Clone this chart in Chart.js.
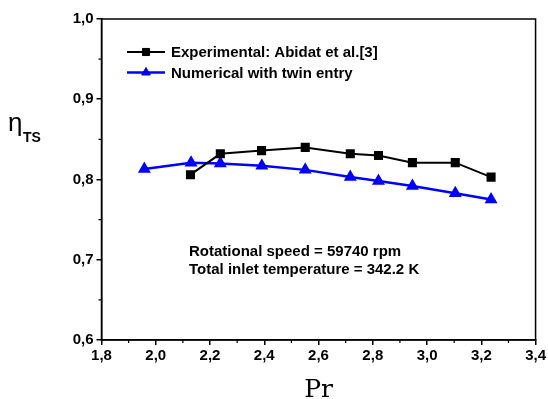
<!DOCTYPE html>
<html>
<head>
<meta charset="utf-8">
<script src="https://cdn.jsdelivr.net/npm/chart.js@4/dist/chart.umd.min.js"></script>
<style>
  html, body { margin: 0; padding: 0; background: #fff; }
  #wrap { width: 548px; height: 399px; }
</style>
</head>
<body>
<div id="wrap"><canvas id="myChart"></canvas></div>
<script>
// data
const prExp = [2.128, 2.238, 2.390, 2.551, 2.717, 2.821, 2.946, 3.104, 3.236];
const etaExp = [0.806, 0.832, 0.836, 0.840, 0.832, 0.830, 0.821, 0.821, 0.803];
const prNum = [1.958, 2.130, 2.238, 2.391, 2.551, 2.717, 2.821, 2.946, 3.104, 3.236];
const etaNum = [0.813, 0.821, 0.820, 0.817, 0.812, 0.803, 0.798, 0.792, 0.783, 0.775];
const seriesNames = ["Experimental: Abidat et al.[3]", "Numerical with twin entry"];
const noteLines = ["Rotational speed = 59740 rpm", "Total inlet temperature = 342.2 K"];
const xMinorTicks = [1.9, 2.1, 2.3, 2.5, 2.7, 2.9, 3.1, 3.3];
const yMinorTicks = [0.65, 0.75, 0.85, 0.95];

const sans = "'Liberation Sans', Arial, sans-serif";
const fmt = (v) => Number(v).toFixed(1).replace(".", ",");

// extra drawing: frame, minor ticks, legend, note and axis titles
const decor = {
    id: "decor",
    afterDraw(chart) {
        const ctx = chart.ctx;
        const a = chart.chartArea;
        const xs = chart.scales.x;
        const ys = chart.scales.y;
        ctx.save();
        ctx.strokeStyle = "#000";
        ctx.lineWidth = 1.5;
        ctx.strokeRect(a.left, a.top, a.right - a.left, a.bottom - a.top);

        // minor ticks
        ctx.lineWidth = 1.2;
        ctx.beginPath();
        xMinorTicks.forEach((v) => {
            const x = xs.getPixelForValue(v);
            ctx.moveTo(x, a.bottom);
            ctx.lineTo(x, a.bottom + 3);
        });
        yMinorTicks.forEach((v) => {
            const y = ys.getPixelForValue(v);
            ctx.moveTo(a.left - 3, y);
            ctx.lineTo(a.left, y);
        });
        ctx.stroke();

        // legend with line + marker samples
        const rows = [52, 72.5];
        chart.data.datasets.forEach((ds, i) => {
            const y = rows[i];
            ctx.strokeStyle = ds.borderColor;
            ctx.lineWidth = ds.borderWidth;
            ctx.beginPath();
            ctx.moveTo(127, y);
            ctx.lineTo(165, y);
            ctx.stroke();
            ctx.fillStyle = ds.pointBackgroundColor;
            ctx.strokeStyle = ds.pointBorderColor;
            ctx.lineWidth = 1;
            Chart.helpers.drawPoint(ctx, {
                pointStyle: ds.pointStyle,
                rotation: 0,
                radius: ds.pointRadius,
                borderWidth: 1
            }, 146, y);
            ctx.fillStyle = "#000";
            ctx.font = "bold 15px " + sans;
            ctx.textBaseline = "middle";
            ctx.textAlign = "left";
            ctx.fillText(ds.label, 171, y + 1);
        });

        // note
        ctx.font = "bold 15px " + sans;
        ctx.fillStyle = "#000";
        ctx.textBaseline = "alphabetic";
        ctx.fillText(noteLines[0], 189, 256);
        ctx.fillText(noteLines[1], 189, 274);

        // y title: eta with subscript TS
        ctx.font = "26px " + sans;
        ctx.fillText("\u03B7", 8, 131);
        ctx.font = "bold 14px " + sans;
        ctx.fillText("TS", 23, 142);

        // x title
        ctx.font = "25px 'DejaVu Serif', 'Liberation Serif', serif";
        ctx.textAlign = "center";
        ctx.fillText("Pr", (a.left + a.right) / 2, 397);
        ctx.restore();
    }
};

const ctx = document.getElementById("myChart").getContext("2d");
const chart = new Chart(ctx, {
    type: "line",
    data: {
        datasets: [
            {
                label: seriesNames[0],
                data: prExp.map((x, i) => ({ x: x, y: etaExp[i] })),
                borderColor: "#000",
                backgroundColor: "#000",
                pointBackgroundColor: "#000",
                pointBorderColor: "#000",
                pointStyle: "rect",
                pointRadius: 5,
                borderWidth: 2
            },
            {
                label: seriesNames[1],
                data: prNum.map((x, i) => ({ x: x, y: etaNum[i] })),
                borderColor: "#0000ff",
                backgroundColor: "#0000ff",
                pointBackgroundColor: "#0000ff",
                pointBorderColor: "#0000ff",
                pointStyle: "triangle",
                pointRadius: 5,
                borderWidth: 2.5
            }
        ]
    },
    options: {
        responsive: true,
        maintainAspectRatio: false,
        animation: false,
        events: [],
        layout: { padding: { left: 0, right: 12, top: 19, bottom: 0 } },
        plugins: {
            legend: { display: false },
            tooltip: { enabled: false }
        },
        scales: {
            x: {
                type: "linear",
                min: 1.8,
                max: 3.4,
                afterFit: (s) => { s.height = 59; },
                grid: {
                    drawOnChartArea: false,
                    color: "#000",
                    tickLength: 5,
                    lineWidth: 1.5
                },
                border: { color: "#000", width: 1.5 },
                ticks: {
                    stepSize: 0.2,
                    padding: 2,
                    color: "#000",
                    font: { family: sans, size: 15, weight: "bold" },
                    callback: (v) => fmt(v),
                    maxRotation: 0
                }
            },
            y: {
                min: 0.6,
                max: 1.0,
                afterFit: (s) => { s.width = 101.5; },
                grid: {
                    drawOnChartArea: false,
                    color: "#000",
                    tickLength: 5,
                    lineWidth: 1.5
                },
                border: { color: "#000", width: 1.5 },
                ticks: {
                    stepSize: 0.1,
                    padding: 3,
                    color: "#000",
                    font: { family: sans, size: 15, weight: "bold" },
                    callback: (v) => fmt(v)
                }
            }
        }
    },
    plugins: [decor]
});
</script>
</body>
</html>
